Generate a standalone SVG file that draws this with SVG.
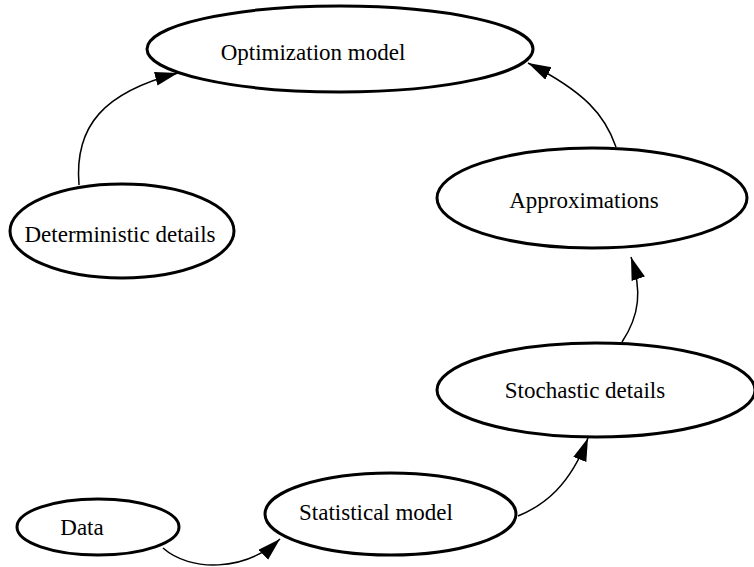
<svg xmlns="http://www.w3.org/2000/svg" width="754" height="567" viewBox="0 0 754 567">
<style>
.node ellipse{fill:#fff;stroke:#000;stroke-width:3}
.node text{font-family:"Liberation Serif","Times New Roman",serif;font-size:23px;fill:#000}
.edge{fill:none;stroke:#000;stroke-width:1.5}
</style>
<defs>
<marker id="ah" markerUnits="userSpaceOnUse" markerWidth="24" markerHeight="16" refX="23" refY="7" orient="auto">
<polygon points="0,0 23,7 0,14" fill="#000"/>
</marker>
</defs>
<rect width="754" height="567" fill="#fff"/>
<g id="optimization" class="node">
<ellipse cx="340" cy="49" rx="193" ry="43"/>
<text x="313" y="60" text-anchor="middle">Optimization model</text>
</g>
<g id="deterministic" class="node">
<ellipse cx="122" cy="231" rx="112" ry="47"/>
<text x="120" y="242" text-anchor="middle">Deterministic details</text>
</g>
<g id="approximations" class="node">
<ellipse cx="592" cy="198" rx="155" ry="50"/>
<text x="584" y="208" text-anchor="middle">Approximations</text>
</g>
<g id="stochastic" class="node">
<ellipse cx="596" cy="390" rx="159" ry="47"/>
<text x="585" y="398" text-anchor="middle">Stochastic details</text>
</g>
<g id="statistical" class="node">
<ellipse cx="390.5" cy="514" rx="125.5" ry="41"/>
<text x="376" y="520" text-anchor="middle">Statistical model</text>
</g>
<g id="data" class="node">
<ellipse cx="98" cy="527" rx="81" ry="28"/>
<text x="82" y="535" text-anchor="middle">Data</text>
</g>
<g id="connectors">
<path class="edge" d="M79,185 C74,125 105,92 178,73" marker-end="url(#ah)"/>
<path class="edge" d="M616,147 C605,115 585,92 528,63" marker-end="url(#ah)"/>
<path class="edge" d="M622,342 C640,315 642,290 631,257" marker-end="url(#ah)"/>
<path class="edge" d="M518,516 C545,505 570,485 588,438" marker-end="url(#ah)"/>
<path class="edge" d="M163,548 C190,572 245,572 280,539" marker-end="url(#ah)"/>
</g>
</svg>
